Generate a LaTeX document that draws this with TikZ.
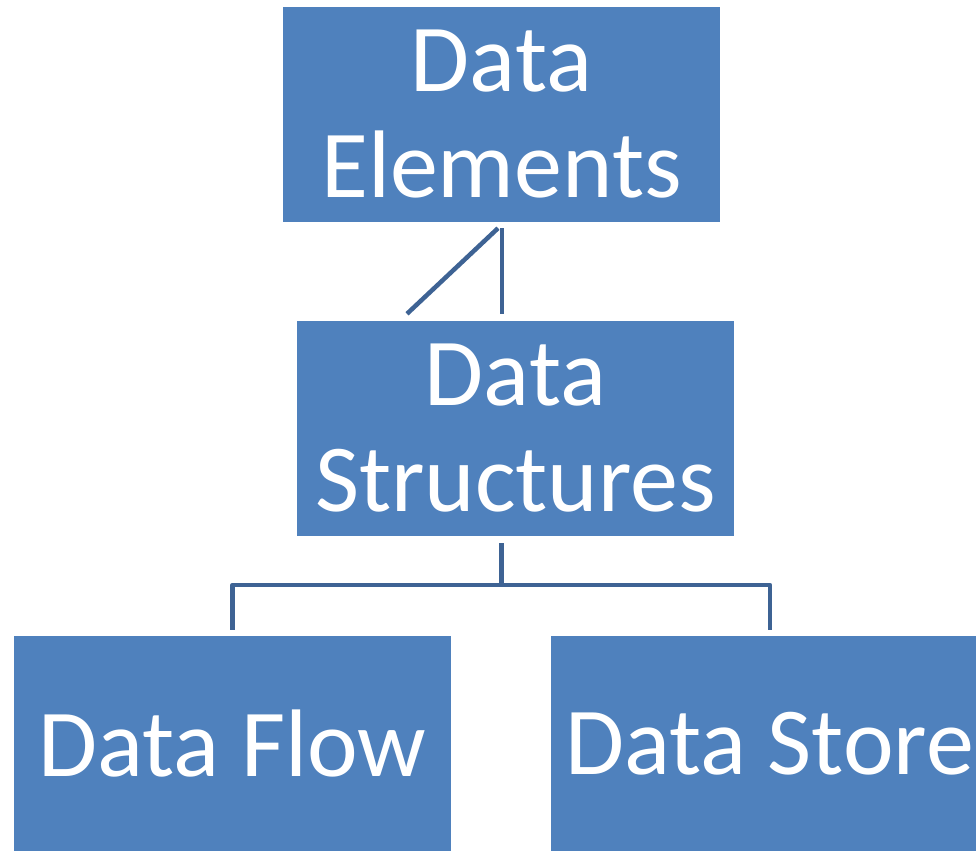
\documentclass[tikz,border=0pt]{standalone}
\usepackage{fontspec}
\setmainfont{Carlito}
\usetikzlibrary{calc}
\definecolor{boxblue}{RGB}{79,129,189}
\definecolor{linkblue}{RGB}{62,99,148}
\begin{document}
\begin{tikzpicture}[x=1pt,y=-1pt,
  box/.style={rectangle, fill=boxblue, draw=none, text=white, minimum width=437pt, minimum height=215pt, align=center, inner sep=0pt, font=\fontsize{96}{106}\selectfont},
  link/.style={draw=linkblue, line width=4.5pt}]
\useasboundingbox (0,0) rectangle (976,851);
\clip (0,0) rectangle (976,851);
\fill[white] (0,0) rectangle (976,851);
\node[box] (DE) at (501.5,114.5) {Data\\Elements};
\node[box] (DS) at (515.5,428.5) {Data\\Structures};
\node[box] (DF) at (232.5,743.5) {Data Flow};
\node[box] (DT) at (769.5,743.5) {Data Store};
% connectors between top and middle
\coordinate (a1) at ($(DE.south)+(-3.5,6)$);
\coordinate (a2) at ($(DS.north)+(-108.5,-7)$);
\coordinate (b1) at ($(DE.south)+(0.5,6)$);
\coordinate (b2) at ($(DS.north)+(-13.5,-7)$);
\draw[link] (a1) -- (a2);
\draw[link] (b1) -- (b2);
% tree connector
\coordinate (c1) at ($(DS.south)+(-14,7)$);
\coordinate (bar) at (501.5,585);
\draw[link] (c1) -- (bar);
\draw[link, line join=round] ($(DF.north)+(0,-6)$) |- (bar) -| ($(DT.north)+(0.5,-6)$);
\end{tikzpicture}
\end{document}
